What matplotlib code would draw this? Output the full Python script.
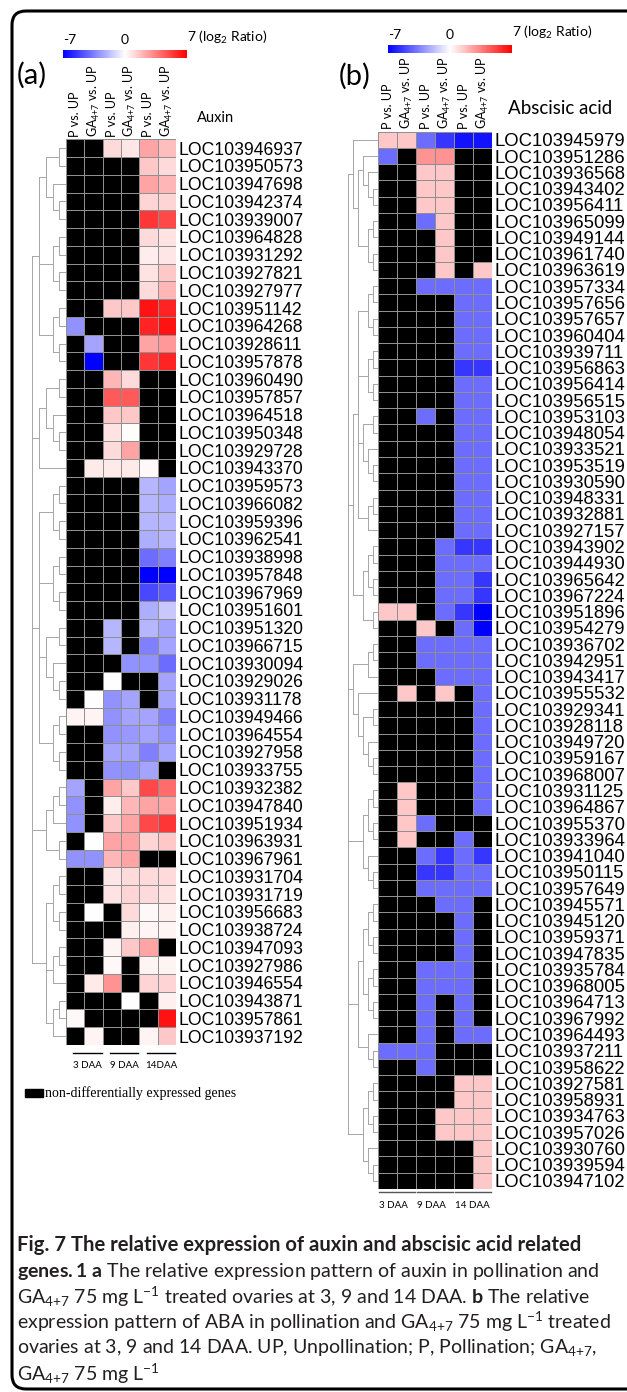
import numpy as np
import matplotlib
matplotlib.use("Agg")
import matplotlib.pyplot as plt
from matplotlib.colors import LinearSegmentedColormap, Normalize
from matplotlib.cm import ScalarMappable
from matplotlib.patches import FancyBboxPatch, Rectangle

plt.rcParams["font.family"] = ["Lato", "DejaVu Sans"]
plt.rcParams["mathtext.fontset"] = "custom"
plt.rcParams["mathtext.rm"] = "Lato"
plt.rcParams["mathtext.it"] = "Lato:italic"
plt.rcParams["mathtext.bf"] = "Lato:bold"

N = np.nan

# columns shared by both panels
columns = ["P vs. UP", "GA$_{4{+}7}$ vs. UP"] * 3

# ---- (a) auxin ----
auxin_genes = [
    "LOC103946937", "LOC103950573", "LOC103947698", "LOC103942374", "LOC103939007",
    "LOC103964828", "LOC103931292", "LOC103927821", "LOC103927977", "LOC103951142",
    "LOC103964268", "LOC103928611", "LOC103957878", "LOC103960490", "LOC103957857",
    "LOC103964518", "LOC103950348", "LOC103929728", "LOC103943370", "LOC103959573",
    "LOC103966082", "LOC103959396", "LOC103962541", "LOC103938998", "LOC103957848",
    "LOC103967969", "LOC103951601", "LOC103951320", "LOC103966715", "LOC103930094",
    "LOC103929026", "LOC103931178", "LOC103949466", "LOC103964554", "LOC103927958",
    "LOC103933755", "LOC103932382", "LOC103947840", "LOC103951934", "LOC103963931",
    "LOC103967961", "LOC103931704", "LOC103931719", "LOC103956683", "LOC103938724",
    "LOC103947093", "LOC103927986", "LOC103946554", "LOC103943871", "LOC103957861",
    "LOC103937192",
]
auxin_vals = [
    [N, N, 1.0, 0.7, 2.5, 1.8],
    [N, N, N, N, 1.5, 1.0],
    [N, N, N, N, 2.5, 2.0],
    [N, N, N, N, 1.2, 1.2],
    [N, N, N, N, 5.5, 5.0],
    [N, N, N, N, 1.0, 0.8],
    [N, N, N, N, 0.5, 0.7],
    [N, N, N, N, 0.8, 1.5],
    [N, N, N, N, 1.0, 2.0],
    [N, N, 1.5, 1.5, 6.5, 6.0],
    [-3.0, N, N, N, 6.0, 6.5],
    [N, -2.5, N, N, 2.5, 2.8],
    [N, -7.0, N, N, 5.5, 6.0],
    [N, N, 2.0, 1.0, N, N],
    [N, N, 4.5, 4.5, N, N],
    [N, N, 1.5, 1.5, N, N],
    [N, N, 0.8, 0.1, N, N],
    [N, N, 1.0, 2.5, N, N],
    [N, 0.6, 0.6, 0.6, 0.2, N],
    [N, N, N, N, -2.0, -2.5],
    [N, N, N, N, -2.0, -2.2],
    [N, N, N, N, -2.0, -2.0],
    [N, N, N, N, -2.2, -2.0],
    [N, N, N, N, -4.0, -3.5],
    [N, N, N, N, -7.0, -7.0],
    [N, N, N, N, -5.0, -4.5],
    [N, N, N, N, -2.2, -1.5],
    [N, N, -2.0, N, -2.0, -2.5],
    [N, N, -2.0, N, -3.5, -2.5],
    [N, N, N, -3.0, -3.0, -4.0],
    [N, N, 0.0, N, N, -2.5],
    [N, 0.0, -3.0, -2.5, N, -2.5],
    [0.3, 0.3, -3.0, -2.5, -2.5, -3.5],
    [N, N, -3.0, -2.8, -2.5, -3.0],
    [N, N, -2.5, -2.5, -3.5, -2.5],
    [N, N, -3.0, -3.0, -2.5, N],
    [-2.5, N, 2.5, 1.5, 5.0, 4.0],
    [-3.0, N, 0.5, 2.0, 2.5, 2.5],
    [-3.0, N, 1.5, 2.5, 5.0, 5.5],
    [N, 0.0, 2.5, 2.5, 1.2, 1.5],
    [-3.0, -3.0, 2.0, 2.5, N, N],
    [N, N, 0.7, 1.0, 1.0, 1.0],
    [N, N, 0.8, 1.2, 1.0, 0.8],
    [N, 0.0, N, 1.0, 0.2, 0.4],
    [N, N, N, 0.4, 0.3, 0.3],
    [N, N, 0.3, 1.5, 2.5, N],
    [N, N, 0.2, N, 0.3, 0.3],
    [N, 0.6, 3.0, N, 1.2, 1.2],
    [N, N, N, 0.0, N, 0.4],
    [0.2, N, N, N, N, 6.5],
    [N, 0.3, N, N, 0.3, 1.5],
]
# cluster tree (row indices)
auxin_tree = [
    [[[0, 1], [2, [3, 4]]], [[5, 6], [7, 8]], [[9, 10], [11, 12]]],
    [[[13, 14], [15, [16, 17]]], 18],
    [[[19, 20], [21, 22]], [[23, 24], [25, 26]], [[27, 28], [29, [30, 31]]], [[32, 33], [34, 35]]],
    [[[36, 37], 38], [39, 40]],
    [[[41, 42], [43, 44]], [[45, 46], 47], [[48, 49], 50]],
]

# ---- (b) abscisic acid ----
aba_genes = [
    "LOC103945979", "LOC103951286", "LOC103936568", "LOC103943402", "LOC103956411",
    "LOC103965099", "LOC103949144", "LOC103961740", "LOC103963619", "LOC103957334",
    "LOC103957656", "LOC103957657", "LOC103960404", "LOC103939711", "LOC103956863",
    "LOC103956414", "LOC103956515", "LOC103953103", "LOC103948054", "LOC103933521",
    "LOC103953519", "LOC103930590", "LOC103948331", "LOC103932881", "LOC103927157",
    "LOC103943902", "LOC103944930", "LOC103965642", "LOC103967224", "LOC103951896",
    "LOC103954279", "LOC103936702", "LOC103942951", "LOC103943417", "LOC103955532",
    "LOC103929341", "LOC103928118", "LOC103949720", "LOC103959167", "LOC103968007",
    "LOC103931125", "LOC103964867", "LOC103955370", "LOC103933964", "LOC103941040",
    "LOC103950115", "LOC103957649", "LOC103945571", "LOC103945120", "LOC103959371",
    "LOC103947835", "LOC103935784", "LOC103968005", "LOC103964713", "LOC103967992",
    "LOC103964493", "LOC103937211", "LOC103958622", "LOC103927581", "LOC103958931",
    "LOC103934763", "LOC103957026", "LOC103930760", "LOC103939594", "LOC103947102",
]
aba_vals = [
    [1.5, 1.5, -4.0, -5.5, -6.5, -6.5],
    [-4.0, N, 3.0, 3.0, N, N],
    [N, N, 1.5, 1.5, N, N],
    [N, N, 1.5, 1.5, N, N],
    [N, N, 1.5, 1.5, N, N],
    [N, N, -4.0, 1.5, N, N],
    [N, N, N, 1.5, N, N],
    [N, N, N, 1.5, N, N],
    [N, N, N, 1.5, N, 1.5],
    [N, N, -4.0, -4.0, -4.0, -4.0],
    [N, N, N, N, -4.0, -4.0],
    [N, N, N, N, -4.0, -4.0],
    [N, N, N, N, -4.0, -4.0],
    [N, N, N, N, -4.0, -4.0],
    [N, N, N, N, -5.5, -5.5],
    [N, N, N, N, -4.0, -4.0],
    [N, N, N, N, -4.0, -4.0],
    [N, N, -4.0, N, -4.0, -4.0],
    [N, N, N, N, -4.0, -4.0],
    [N, N, N, N, -4.0, -4.0],
    [N, N, N, N, -4.0, -4.0],
    [N, N, N, N, -4.0, -4.0],
    [N, N, N, N, -4.0, -4.0],
    [N, N, N, N, -4.0, -4.0],
    [N, N, N, N, -4.0, -4.0],
    [N, N, N, -4.0, -5.5, -5.5],
    [N, N, N, -4.0, -4.0, -4.0],
    [N, N, N, -4.0, -4.0, -5.5],
    [N, N, N, -4.0, -4.0, -5.5],
    [1.5, 1.5, N, -4.0, -5.5, -7.0],
    [N, N, 1.5, N, -4.0, -7.0],
    [N, N, -4.0, -4.0, -4.0, -4.0],
    [N, N, -4.0, -4.0, -4.0, -4.0],
    [N, N, N, -4.0, -4.0, -4.0],
    [N, 1.5, N, 1.5, N, -4.0],
    [N, N, N, N, N, -4.0],
    [N, N, N, N, N, -4.0],
    [N, N, N, N, N, -4.0],
    [N, N, N, N, N, -4.0],
    [N, N, N, N, N, -4.0],
    [N, 1.5, N, N, N, -4.0],
    [N, 1.5, N, N, N, -4.0],
    [N, 1.5, -4.0, N, N, N],
    [N, 1.5, N, N, -4.0, N],
    [N, N, -4.0, -5.5, -4.0, -5.5],
    [N, N, -5.5, -5.5, -4.0, -4.0],
    [N, N, -4.0, -4.0, -4.0, -4.0],
    [N, N, N, -4.0, -4.0, N],
    [N, N, N, N, -4.0, N],
    [N, N, N, N, -4.0, N],
    [N, N, N, N, -4.0, N],
    [N, N, -4.0, -4.0, -4.0, N],
    [N, N, -4.0, -4.0, -4.0, N],
    [N, N, -4.0, N, -4.0, N],
    [N, N, -4.0, N, -4.0, N],
    [N, N, -4.0, N, -4.0, -4.0],
    [-4.0, -4.0, -4.0, N, N, N],
    [N, N, -4.0, N, N, N],
    [N, N, N, N, 1.5, 1.5],
    [N, N, N, N, 1.5, 1.5],
    [N, N, N, 1.5, 1.5, 1.5],
    [N, N, N, 1.5, 1.5, 1.5],
    [N, N, N, N, N, 1.5],
    [N, N, N, N, N, 1.5],
    [N, N, N, N, N, 1.5],
]
aba_tree = [
    [0, [[1, [2, [3, 4]]], [[5, 6], [7, 8]]]],
    [[[[9, 10], [11, 12]], [[13, 14], [15, 16]], [[17, 18], [19, [20, 21]]], [[22, 23], 24]],
     [[[25, 26], [27, 28]], [29, 30]]],
    [[[31, 32], 33], [34, [[35, 36], [37, [38, 39]]]]],
    [[[40, 41], [42, 43]], [44, [45, 46]]],
    [[[[47, 48], [49, 50]], [[51, 52], [53, 54]]], [55, [56, 57]]],
    [[[58, 59], [60, 61]], [62, [63, 64]]],
]

W, H = 627, 1392
cmap = LinearSegmentedColormap.from_list("bwr7", ["#0000ff", "#ffffff", "#ff0000"])
cmap.set_bad("black")
norm = Normalize(-7, 7)


def box(x0, y0, x1, y1):
    return [x0 / W, 1 - y1 / H, (x1 - x0) / W, (y1 - y0) / H]


def draw_heatmap(ax, vals, genes, gene_fs):
    data = np.ma.masked_invalid(np.array(vals, dtype=float))
    ax.pcolormesh(data, cmap=cmap, norm=norm, edgecolors="#8f8f8f", linewidth=0.4)
    ax.set_xlim(0, data.shape[1])
    ax.set_ylim(data.shape[0], 0)
    ax.set_yticks(np.arange(len(genes)) + 0.5)
    ax.set_yticklabels(genes, family=["Liberation Sans"], fontsize=gene_fs)
    ax.yaxis.tick_right()
    ax.set_xticks(np.arange(len(columns)) + 0.5)
    ax.set_xticklabels(columns, rotation=90, fontsize=9)
    ax.xaxis.tick_top()
    ax.tick_params(length=0, pad=2)
    for s in ax.spines.values():
        s.set_visible(False)


def draw_tree(ax, node):
    # returns (row centre, height) of the node
    if isinstance(node, int):
        return node + 0.5, 0
    kids = [draw_tree(ax, k) for k in node]
    h = 1 + max(k[1] for k in kids)
    ys = [k[0] for k in kids]
    ax.plot([h, h], [min(ys), max(ys)], color="#a6a6a6", lw=0.7)
    for y, kh in kids:
        ax.plot([kh, h], [y, y], color="#a6a6a6", lw=0.7)
    return (min(ys) + max(ys)) / 2, h


def dendrogram(fig, rect, tree, nrows):
    ax = fig.add_axes(rect)
    _, root = draw_tree(ax, tree)
    ax.set_xlim(root + 0.05, 0)
    ax.set_ylim(nrows, 0)
    ax.axis("off")


def colorbar(fig, rect):
    cax = fig.add_axes(rect)
    cb = fig.colorbar(ScalarMappable(norm=norm, cmap=cmap), cax=cax, orientation="horizontal")
    cb.outline.set_visible(False)
    cax.xaxis.set_ticks_position("top")
    cb.set_ticks([-7, 0, 7])
    cb.set_ticklabels(["-7", "0", "7 (log$_2$ Ratio)"])
    cax.tick_params(length=0, pad=3, labelsize=10)
    labels = cax.get_xticklabels()
    labels[0].set_ha("left")
    labels[-1].set_ha("left")


fig = plt.figure(figsize=(W / 100, H / 100), dpi=100)

# overlay in pixel coordinates for frame, captions and legend
bg = fig.add_axes([0, 0, 1, 1])
bg.set_xlim(0, W)
bg.set_ylim(H, 0)
bg.axis("off")
bg.add_patch(FancyBboxPatch((12, 11), 660, 1378, boxstyle="round,pad=0,rounding_size=14",
                            fill=False, lw=2.2, ec="black"))

# panel (a)
ax_a = fig.add_axes(box(66, 139.3, 176, 1045))
draw_heatmap(ax_a, auxin_vals, auxin_genes, 12.7)
dendrogram(fig, box(32, 139.3, 66, 1045), auxin_tree, len(auxin_genes))
colorbar(fig, box(63, 50, 187, 58))
bg.text(17, 75, "(a)", fontsize=21, va="center")
bg.text(197, 118, "Auxin", fontsize=10.5, va="center")
n_a = len(auxin_genes)
for i, day in enumerate(["3 DAA", "9 DAA", "14DAA"]):
    ax_a.plot([2 * i + 0.4, 2 * i + 1.95], [n_a + 0.45] * 2, color="black", lw=1, clip_on=False)
    ax_a.text(2 * i + 1.18, n_a + 1.15, day, fontsize=7, ha="center", va="center")
bg.add_patch(Rectangle((25, 1089), 18, 8, color="black"))
bg.text(45, 1093, "non-differentially expressed genes", family=["Liberation Serif"],
        fontsize=10, va="center")

# panel (b)
ax_b = fig.add_axes(box(378, 131.7, 492, 1189))
draw_heatmap(ax_b, aba_vals, aba_genes, 13.3)
dendrogram(fig, box(348, 131.7, 378, 1189), aba_tree, len(aba_genes))
colorbar(fig, box(388, 45, 512, 53))
bg.text(339, 76, "(b)", fontsize=21, va="center")
bg.text(508, 108, "Abscisic acid", fontsize=13.5, va="center")
n_b = len(aba_genes)
for i, day in enumerate(["3 DAA", "9 DAA", "14 DAA"]):
    ax_b.plot([2 * i + 0.05, 2 * i + 1.95], [n_b + 0.2] * 2, color="#555555", lw=1, clip_on=False)
    ax_b.text(2 * i + 0.05, n_b + 1.0, day, fontsize=7, ha="left", va="center")

# caption
bg.text(17, 1245, "Fig. 7 The relative expression of auxin and abscisic acid related",
        fontsize=14.6, fontweight="bold", va="center", color="#231f20")
caption = [
    r"$\mathbf{genes.1\ a}$ The relative expression pattern of auxin in pollination and",
    r"GA$_{4{+}7}$ 75 mg L$^{-1}$ treated ovaries at 3, 9 and 14 DAA. $\mathbf{b}$ The relative",
    r"expression pattern of ABA in pollination and GA$_{4{+}7}$ 75 mg L$^{-1}$ treated",
    r"ovaries at 3, 9 and 14 DAA. UP, Unpollination; P, Pollination; GA$_{4{+}7}$,",
    r"GA$_{4{+}7}$ 75 mg L$^{-1}$",
]
for k, line in enumerate(caption):
    bg.text(17, 1271 + 25.6 * k, line, fontsize=14.0, va="center", color="#231f20")

fig.savefig("out.png", dpi=100)
